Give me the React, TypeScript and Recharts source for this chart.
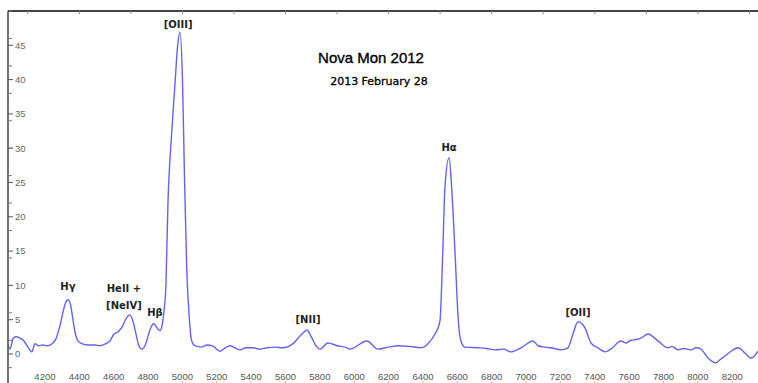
import React from "react";
import { LineChart, Line, XAxis, YAxis, ReferenceDot } from "recharts";

// wavelength (Angstrom) and relative flux
const wavelengths = [
  3985, 3997, 4014, 4031, 4055, 4078, 4101, 4124, 4142, 4165, 4188, 4212, 4241, 4264, 4287,
  4310, 4322, 4334, 4346, 4357, 4375, 4392, 4415, 4450, 4491, 4520, 4555, 4578, 4602, 4625,
  4648, 4671, 4695, 4712, 4730, 4747, 4765, 4782, 4800, 4817, 4834, 4852, 4869, 4881, 4893,
  4904, 4916, 4937, 4957, 4970, 4986, 5001, 5011, 5025, 5040, 5054, 5073, 5110, 5143, 5180,
  5219, 5250, 5277, 5335, 5370, 5411, 5450, 5492, 5540, 5585, 5644, 5684, 5708, 5725, 5748,
  5783, 5801, 5847, 5900, 5958, 5975, 6074, 6138, 6200, 6255, 6320, 6389, 6429, 6470, 6499,
  6515, 6528, 6552, 6567, 6587, 6606, 6621, 6645, 6720, 6770, 6819, 6870, 6912, 6971, 7041,
  7070, 7110, 7145, 7203, 7244, 7273, 7302, 7343, 7378, 7419, 7460, 7494, 7553, 7580, 7611,
  7640, 7669, 7710, 7768, 7826, 7850, 7884, 7920, 7960, 7990, 8018, 8059, 8106, 8130, 8158,
  8193, 8234, 8275, 8310, 8350,
];
const flux = [
  1.3, 0.7, 2.2, 2.5, 2.3, 1.9, 1.0, 0.3, 1.5, 1.2, 1.3, 1.2, 1.5, 2.2, 4.1,
  6.6, 7.6, 7.9, 7.5, 6.0, 3.2, 1.9, 1.5, 1.3, 1.3, 1.2, 1.5, 1.9, 2.9, 3.2,
  3.9, 5.1, 5.7, 4.8, 2.9, 1.2, 0.7, 1.2, 2.6, 3.9, 4.4, 3.8, 3.4, 4.1, 6.3,
  9.9, 22, 32, 39.4, 44.3, 46.9, 39.4, 27.2, 12.6, 5.3, 1.9, 1.2, 1.0, 1.3, 1.1,
  0.4, 0.9, 1.2, 0.6, 0.9, 0.9, 0.7, 0.9, 1.0, 0.9, 1.5, 2.6, 3.2, 3.5, 2.6,
  1.0, 0.7, 1.6, 1.2, 0.9, 0.7, 1.9, 0.7, 1.0, 1.2, 1.1, 0.9, 1.5, 2.9, 4.8,
  14.6, 24.3, 28.6, 24.3, 14.6, 4.8, 1.9, 1.0, 0.9, 0.8, 0.6, 0.7, 0.3, 0.9, 1.9,
  1.2, 1.0, 0.9, 0.6, 0.9, 2.9, 4.7, 3.8, 1.6, 0.9, 0.3, 0.7, 1.9, 1.6, 2.0,
  2.1, 2.3, 2.9, 1.9, 0.9, 1.1, 0.6, 0.8, 0.6, 0.9, 0.7, -0.6, -1.3, -0.8, -0.3,
  0.4, 0.9, 0.1, -0.6, 0.4,
];

const xTicks = [4200, 4400, 4600, 4800, 5000, 5200, 5400, 5600, 5800, 6000, 6200, 6400, 6600, 6800, 7000, 7200, 7400, 7600, 7800, 8000, 8200];
const topTicks = [
  4000, 4100, 4200, 4300, 4400, 4500, 4600, 4700, 4800, 4900, 5000, 5100, 5200, 5300, 5400, 5500,
  5600, 5700, 5800, 5900, 6000, 6100, 6200, 6300, 6400, 6500, 6600, 6700, 6800, 6900, 7000, 7100,
  7200, 7300, 7400, 7500, 7600, 7700, 7800, 7900, 8000, 8100, 8200, 8300,
];
const yTicks = [0, 5, 10, 15, 20, 25, 30, 35, 40, 45];
const yMinorTicks = [
  -4, -3, -2, -1, 0, 1, 2, 3, 4, 5, 6, 7, 8, 9, 10, 11, 12, 13, 14, 15, 16, 17, 18, 19, 20, 21, 22,
  23, 24, 25, 26, 27, 28, 29, 30, 31, 32, 33, 34, 35, 36, 37, 38, 39, 40, 41, 42, 43, 44, 45, 46,
  47, 48, 49, 50,
];

// emission line labels, anchored at (wavelength, flux)
const lineNames = ["H\u03b3", "HeII +", "[NeIV]", "H\u03b2", "[OIII]", "[NII]", "H\u03b1", "[OII]"];
const lineWavelengths = [4334, 4660, 4660, 4840, 4975, 5731, 6552, 7302];
const lineFlux = [9.9, 9.6, 7.1, 6.0, 48.1, 5.0, 30.1, 6.1];

const spectrum = wavelengths.map((w, i) => ({ w, f: flux[i] }));
const X_DOMAIN: [number, number] = [3985, 8350];
const Y_DOMAIN: [number, number] = [-4.38, 50];

const Empty = () => <g />;

const lineLabel = (text: string) => (p: { cx?: number; cy?: number }) => (
  <text
    x={p.cx}
    y={p.cy}
    textAnchor="middle"
    dominantBaseline="central"
    fontFamily="DejaVu Sans"
    fontWeight="bold"
    fontSize={10}
    fill="#222"
  >
    {text}
  </text>
);

export default function App() {
  return (
    <div style={{ position: "absolute", left: 0, top: 0, width: 758, height: 383, background: "#fff", overflow: "hidden" }}>
      <LineChart width={758} height={384} data={spectrum} margin={{ top: 11, right: 0, bottom: 0, left: 8 }}>
        <XAxis
          dataKey="w"
          type="number"
          domain={X_DOMAIN}
          allowDataOverflow
          ticks={xTicks}
          height={1}
          mirror
          axisLine={false}
          tickSize={3}
          tickMargin={1}
          tickLine={{ stroke: "#bbb" }}
          tick={{ fill: "#555", fontSize: 9.5, fontFamily: "Liberation Sans" }}
        />
        <XAxis
          xAxisId="top"
          dataKey="w"
          type="number"
          orientation="top"
          domain={X_DOMAIN}
          allowDataOverflow
          ticks={topTicks}
          height={1}
          mirror
          tickSize={3}
          axisLine={{ stroke: "#444", strokeWidth: 2 }}
          tickLine={{ stroke: "#888" }}
          tick={<Empty />}
        />
        <YAxis
          type="number"
          domain={Y_DOMAIN}
          allowDataOverflow
          ticks={yTicks}
          width={1}
          mirror
          tickSize={5}
          tickMargin={2}
          axisLine={{ stroke: "#444", strokeWidth: 1.5 }}
          tickLine={{ stroke: "#555" }}
          tick={{ fill: "#666", fontSize: 9.5, fontFamily: "Liberation Sans" }}
        />
        <YAxis
          yAxisId="minor"
          type="number"
          domain={Y_DOMAIN}
          allowDataOverflow
          ticks={yMinorTicks}
          width={1}
          mirror
          tickSize={3}
          axisLine={false}
          tickLine={{ stroke: "#777" }}
          tick={<Empty />}
        />
        <Line
          type="monotone"
          dataKey="f"
          stroke="#6262f6"
          strokeWidth={1.4}
          dot={false}
          isAnimationActive={false}
        />
        {lineNames.map((name, i) => (
          <ReferenceDot
            key={name}
            x={lineWavelengths[i]}
            y={lineFlux[i]}
            r={0}
            shape={lineLabel(name)}
          />
        ))}
      </LineChart>
      <div
        style={{
          position: "absolute", left: 371, top: 57, transform: "translate(-50%, -50%)",
          whiteSpace: "nowrap", fontFamily: "Liberation Sans", fontSize: 15, color: "#000",
          WebkitTextStroke: "0.35px #000",
        }}
      >
        Nova Mon 2012
      </div>
      <div
        style={{
          position: "absolute", left: 379, top: 81, transform: "translate(-50%, -50%)",
          whiteSpace: "nowrap", fontFamily: "DejaVu Sans", fontSize: 11, color: "#000",
          WebkitTextStroke: "0.3px #000",
        }}
      >
        2013 February 28
      </div>
    </div>
  );
}
